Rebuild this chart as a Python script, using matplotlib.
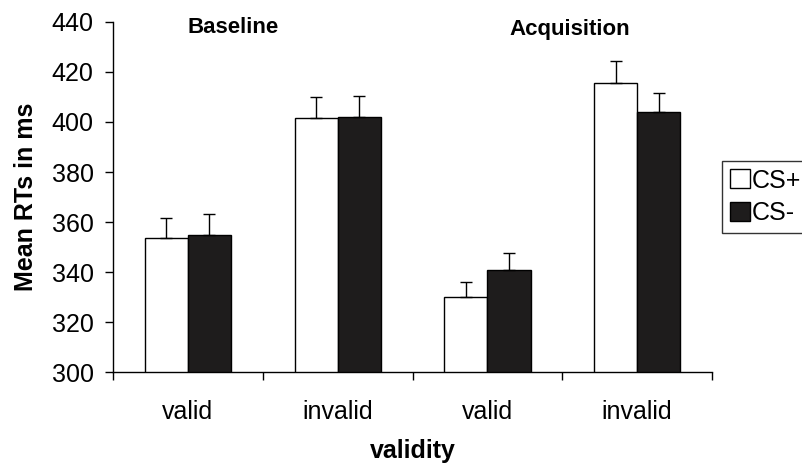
import numpy as np
import matplotlib.pyplot as plt
from matplotlib.patches import Patch

plt.rcParams['font.family'] = ['Liberation Sans', 'DejaVu Sans']

# values
conditions = ['valid', 'invalid', 'valid', 'invalid']
cs_plus = [353.8, 401.4, 329.9, 415.6]
cs_plus_err = [8.0, 8.4, 6.2, 8.8]
cs_minus = [354.7, 402.0, 340.7, 403.9]
cs_minus_err = [8.5, 8.2, 6.8, 7.8]

x = np.arange(len(conditions))
w = 0.288
no_err = [0] * len(conditions)
ekw = dict(ecolor='black', elinewidth=1.0, capsize=4, capthick=1.0)

fig = plt.figure(figsize=(8.02, 4.66), dpi=100)
ax = fig.add_axes([0.1409, 0.2017, 0.7469, 0.7511])

# upper error bars only
ax.bar(x - w/2, cs_plus, w, color='white', edgecolor='black', linewidth=1.0,
       yerr=[no_err, cs_plus_err], error_kw=ekw, zorder=2)
ax.bar(x + w/2, cs_minus, w, color='#1e1c1c', edgecolor='black', linewidth=1.0,
       yerr=[no_err, cs_minus_err], error_kw=ekw, zorder=2)

ax.set_ylim(300, 440)
ax.set_xlim(-0.5, 3.5)
ax.set_yticks(range(300, 441, 20))
ax.set_xticks(x)
ax.set_xticklabels(conditions)
ax.set_xticks(np.arange(-0.5, 3.6, 1.0), minor=True)
ax.tick_params(axis='x', which='major', length=0, labelsize=18, pad=20)
ax.tick_params(axis='x', which='minor', length=6, direction='out', width=1)
ax.tick_params(axis='y', length=6, direction='out', width=1, labelsize=18, pad=8)

for s in ['top', 'right']:
    ax.spines[s].set_visible(False)
for s in ['left', 'bottom']:
    ax.spines[s].set_linewidth(1.0)

ax.set_ylabel('Mean RTs in ms', fontsize=18, fontweight='bold', labelpad=10)
ax.set_xlabel('validity', fontsize=18, fontweight='bold', labelpad=11)

ax.text(0.3, 437.6, 'Baseline', ha='center', va='center', fontsize=16, fontweight='bold')
ax.text(2.547, 436.8, 'Acquisition', ha='center', va='center', fontsize=16, fontweight='bold')

handles = [Patch(facecolor='white', edgecolor='black', label='CS+'),
           Patch(facecolor='#1e1c1c', edgecolor='black', label='CS-')]
leg = fig.legend(handles=handles, loc='upper left', bbox_to_anchor=(722/802, 1 - 161/466),
                 fontsize=18, frameon=True, fancybox=False, edgecolor='black',
                 handlelength=0.8, handleheight=0.8, handletextpad=0.1,
                 borderpad=0.3, labelspacing=0.35, borderaxespad=0)
leg.get_frame().set_linewidth(1.0)

fig.savefig('out.png', dpi=100)
